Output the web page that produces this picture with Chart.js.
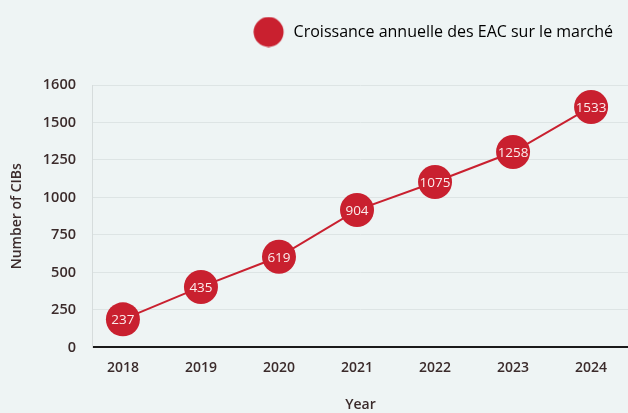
<!DOCTYPE html>
<html>
<head>
<meta charset="utf-8">
<script src="https://cdn.jsdelivr.net/npm/chart.js@4"></script>
<style>
  html, body { margin: 0; padding: 0; background: #eef4f4; }
  #wrap { width: 628px; height: 413px; }
</style>
</head>
<body>
<div id="wrap"><canvas id="growthChart"></canvas></div>
<script>
// values
const years = [2018, 2019, 2020, 2021, 2022, 2023, 2024];
const cibCounts = [237, 435, 619, 904, 1075, 1258, 1533];
const yTickLabels = ["0", "250", "500", "750", "1000", "1250", "1500", "1600"];
const seriesLabel = "Croissance annuelle des EAC sur le marché";

// the source axis is not to scale: gridlines are evenly spaced
// and the points sit on this range
const yMin = 66;
const yMax = 1667;

const red = "#c9202f";
const textColor = "#3b2b2b";

// big red dot for the legend (sits left of the usual box)
const legendDot = document.createElement("canvas");
legendDot.width = 49;
legendDot.height = 31;
const dctx = legendDot.getContext("2d");
dctx.fillStyle = red;
dctx.beginPath();
dctx.arc(15.5, 15.5, 15, 0, Math.PI * 2);
dctx.fill();

// writes the value inside each point
const pointValues = {
  id: "pointValues",
  afterDatasetsDraw(chart) {
    const ctx = chart.ctx;
    const meta = chart.getDatasetMeta(0);
    ctx.save();
    ctx.font = "13.5px 'Open Sans'";
    ctx.fillStyle = "#fbecec";
    ctx.textAlign = "center";
    ctx.textBaseline = "middle";
    meta.data.forEach((pt, i) => {
      ctx.fillText(cibCounts[i], pt.x, pt.y + 1);
    });
    ctx.restore();
  }
};

// leave a wide gap under the legend
const legendGap = {
  id: "legendGap",
  beforeInit(chart) {
    const fit = chart.legend.fit;
    chart.legend.fit = function () {
      fit.call(this);
      this.height = 76;
    };
  }
};

const ctx = document.getElementById("growthChart").getContext("2d");

new Chart(ctx, {
  type: "line",
  data: {
    datasets: [
      {
        label: seriesLabel,
        data: years.map((y, i) => ({ x: y, y: cibCounts[i] })),
        borderColor: red,
        backgroundColor: red,
        borderWidth: 2,
        pointRadius: 17,
        pointHoverRadius: 17,
        pointBorderWidth: 0,
        pointStyle: "circle",
        clip: false,
      },
    ],
  },
  options: {
    responsive: true,
    maintainAspectRatio: false,
    animation: false,
    layout: { autoPadding: false, padding: { left: 9, right: 0, top: 9, bottom: 0 } },
    plugins: {
      tooltip: { enabled: false },
      legend: {
        position: "top",
        align: "end",
        labels: {
          usePointStyle: true,
          color: textColor,
          font: { family: "'Open Sans'", size: 16 },
          padding: 15,
          generateLabels: (chart) => [
            {
              text: seriesLabel,
              pointStyle: legendDot,
              fillStyle: red,
              strokeStyle: red,
              lineWidth: 0,
              datasetIndex: 0,
            },
          ],
        },
      },
    },
    scales: {
      x: {
        type: "linear",
        min: 2017.616,
        max: 2024.473,
        afterBuildTicks: (axis) => {
          axis.ticks = years.map((y) => ({ value: y }));
        },
        afterFit: (axis) => {
          axis.paddingLeft = 0;
          axis.paddingRight = 0;
        },
        ticks: {
          color: textColor,
          font: { family: "'Open Sans'", size: 14, weight: "600" },
          padding: 4,
          callback: (v) => String(v),
        },
        grid: { display: false },
        border: { display: true, color: "#1a1a1a", width: 2 },
        title: {
          display: true,
          text: "Year",
          color: textColor,
          font: { family: "'Open Sans'", size: 14, weight: "600" },
          padding: { top: 16, bottom: 0 },
        },
      },
      y: {
        min: yMin,
        max: yMax,
        afterBuildTicks: (axis) => {
          const step = (yMax - yMin) / (yTickLabels.length - 1);
          axis.ticks = yTickLabels.map((t, i) => ({ value: yMin + i * step }));
        },
        ticks: {
          color: textColor,
          font: { family: "'Open Sans'", size: 14.5, weight: "600" },
          padding: 17,
          callback: (v, i) => yTickLabels[i],
        },
        grid: { color: "#dde4e4", drawTicks: false },
        border: { display: true, color: "#d6dcdc", width: 1 },
        title: {
          display: true,
          text: "Number of CIBs",
          color: textColor,
          font: { family: "'Open Sans'", size: 14, weight: "600" },
          padding: { top: 0, bottom: 0 },
        },
      },
    },
  },
  plugins: [pointValues, legendGap],
});
</script>
</body>
</html>
